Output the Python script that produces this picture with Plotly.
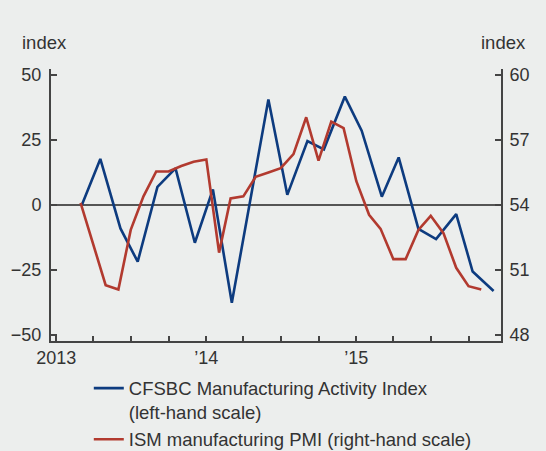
import plotly.graph_objects as go

# CFSBC Manufacturing Activity Index (left-hand scale), survey roughly every six weeks
cfsbc_dates = ["2013-03-04", "2013-04-18", "2013-06-06", "2013-07-18", "2013-09-04",
               "2013-10-18", "2013-12-04", "2014-01-17", "2014-03-04", "2014-06-01",
               "2014-07-17", "2014-09-04", "2014-10-14", "2014-12-04", "2015-01-14",
               "2015-03-04", "2015-04-14", "2015-06-01", "2015-07-14", "2015-09-01",
               "2015-10-11", "2015-12-01"]
cfsbc_values = [0.0, 17.7, -9.0, -21.8, 7.0, 14.1, -14.5, 6.0, -37.6, 40.6,
                3.9, 24.6, 21.4, 41.7, 28.6, 3.2, 18.3, -9.2, -13.1, -3.5,
                -25.6, -33.1]

# ISM manufacturing PMI (right-hand scale), monthly
ism_dates = ["2013-%02d-01" % m for m in range(3, 13)] + \
            ["2014-%02d-01" % m for m in range(1, 13)] + \
            ["2015-%02d-01" % m for m in range(1, 12)]
ism_values = [54.1, 52.2, 50.3, 50.1, 52.85, 54.4, 55.55, 55.55, 55.8, 56.0,
              56.1, 51.8, 54.3, 54.4, 55.3, 55.5, 55.7, 56.35, 58.05, 56.05,
              57.85, 57.55, 55.1, 53.55, 52.9, 51.5, 51.5, 52.85, 53.5, 52.7,
              51.1, 50.25, 50.1]

# axis ticks
x_tickvals = ["%d-%02d-01" % (y, m) for y in (2013, 2014, 2015) for m in (1, 4, 7, 10)]
x_ticktext = ["2013", "", "", "", "\u201914", "", "", "", "\u201915", "", "", ""]
left_ticks = [-50, -25, 0, 25, 50]
left_ticktext = ["\u221250", "\u221225", "0", "25", "50"]
right_ticks = [48, 51, 54, 57, 60]

BLUE = "#0d3b7f"
RED = "#b23a2f"
TXT = "#333333"
AX = "#444444"
BG = "#eceeed"
FONT = "Liberation Sans, Arial, Helvetica, sans-serif"

fig = go.Figure()
fig.add_trace(go.Scatter(
    x=cfsbc_dates, y=cfsbc_values, mode="lines",
    line=dict(color=BLUE, width=2.6),
    name="CFSBC Manufacturing Activity Index<br>(left-hand scale)",
    yaxis="y"))
fig.add_trace(go.Scatter(
    x=ism_dates, y=ism_values, mode="lines",
    line=dict(color=RED, width=2.6),
    name="ISM manufacturing PMI (right-hand scale)",
    yaxis="y2"))

fig.update_layout(
    width=546, height=451,
    margin=dict(l=51, r=45, t=69, b=110, autoexpand=False),
    paper_bgcolor=BG, plot_bgcolor=BG,
    font=dict(family=FONT, size=18, color=TXT),
    showlegend=True,
    legend=dict(
        x=0.084, y=-0.105, xanchor="left", yanchor="top",
        bgcolor="rgba(0,0,0,0)", font=dict(size=18.5, color=TXT),
        valign="top", tracegroupgap=0, itemwidth=30,
    ),
    xaxis=dict(
        type="date", range=["2012-12-19", "2015-12-19"], automargin=False,
        tickmode="array", tickvals=x_tickvals, ticktext=x_ticktext,
        ticks="inside", ticklen=5, tickwidth=2, tickcolor=AX,
        showline=True, linecolor=AX, linewidth=2,
        showgrid=False, zeroline=False,
        tickfont=dict(size=18, color=TXT), ticklabelstandoff=-1,
    ),
    yaxis=dict(
        range=[-52.3, 52.3], automargin=False,
        tickmode="array", tickvals=left_ticks, ticktext=left_ticktext,
        ticks="inside", ticklen=6, tickwidth=2, tickcolor=AX,
        showline=True, linecolor=AX, linewidth=2,
        showgrid=False, zeroline=True, zerolinecolor="#555555", zerolinewidth=2,
        tickfont=dict(size=18, color=TXT), ticklabelstandoff=4,
    ),
    yaxis2=dict(
        range=[47.72, 60.28], overlaying="y", side="right", automargin=False,
        tickmode="array", tickvals=right_ticks,
        ticks="inside", ticklen=6, tickwidth=2, tickcolor=AX,
        showline=True, linecolor=AX, linewidth=2,
        showgrid=False, zeroline=False,
        tickfont=dict(size=18, color=TXT), ticklabelstandoff=3,
    ),
    annotations=[
        dict(text="index", xref="paper", yref="paper", x=-0.07, y=1.05,
             xanchor="left", yanchor="bottom", showarrow=False,
             font=dict(size=18.5, color=TXT)),
        dict(text="index", xref="paper", yref="paper", x=1.06, y=1.05,
             xanchor="right", yanchor="bottom", showarrow=False,
             font=dict(size=18.5, color=TXT)),
    ],
)

fig.write_html(
    "out.html",
    config={"displayModeBar": False},
    post_script="document.body.style.margin='0';"
                "document.body.style.background='%s';" % BG,
)
